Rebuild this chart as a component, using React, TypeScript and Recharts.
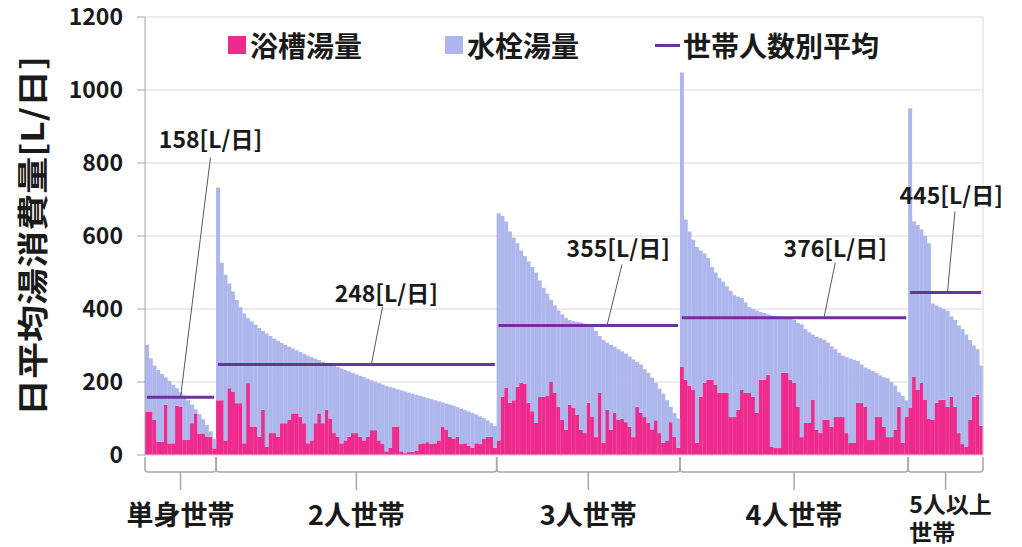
import React from "react";
import {
  Bar,
  BarChart,
  CartesianGrid,
  Legend,
  Line,
  ReferenceDot,
  ReferenceLine,
  XAxis,
  YAxis,
} from "recharts";

const FONT = '"Noto Sans CJK JP", "Noto Sans", sans-serif';

const groupNames = ["単身世帯", "2人世帯", "3人世帯", "4人世帯", "5人以上世帯"];
const groupAverages = [158, 248, 355, 376, 445];
const yTicks = [0, 200, 400, 600, 800, 1000, 1200];

// bar heights (total) and bath part, households sorted by total in each group
const singleTotal = [302, 265, 245, 233, 222, 213, 203, 192, 183, 172, 163, 150, 138, 125, 112, 98, 82, 65, 45];
const singleBath = [119, 119, 96, 36, 36, 137, 32, 32, 135, 133, 41, 41, 87, 114, 59, 59, 50, 50, 18];

const twoTotal = [
  733, 527, 494, 470, 448, 425, 405, 388, 375, 366, 357, 348, 340, 333, 326, 319, 313, 307, 302, 297,
  292, 287, 282, 277, 272, 268, 264, 260, 256, 252, 248, 245, 241, 237, 233, 229, 225, 221, 217, 213,
  209, 205, 201, 197, 193, 189, 186, 183, 180, 177, 174, 171, 168, 165, 162, 159, 156, 153, 150, 147,
  144, 141, 138, 135, 131, 127, 123, 119, 115, 111, 106, 101, 95, 88, 80,
];
const twoBath = [
  150, 150, 40, 183, 174, 142, 142, 32, 197, 78, 78, 50, 124, 23, 60, 60, 50, 87, 87, 96,
  114, 114, 105, 87, 32, 40, 87, 114, 87, 124, 100, 60, 50, 32, 40, 50, 60, 60, 50, 40,
  50, 68, 68, 40, 30, 10, 20, 78, 78, 10, 5, 8, 9, 12, 30, 32, 35, 30, 32, 40,
  78, 70, 50, 45, 50, 30, 32, 25, 20, 32, 30, 45, 50, 50, 20,
];

const threeTotal = [
  662, 655, 640, 612, 595, 580, 560, 545, 530, 515, 500, 478, 458, 442, 425, 410, 396, 385, 375, 370,
  367, 365, 363, 360, 358, 355, 340, 326, 315, 308, 302, 297, 290, 284, 278, 270, 262, 255, 248, 235,
  225, 212, 198, 182, 168, 150, 132, 115, 100,
];
const threeBath = [
  40, 160, 185, 143, 150, 187, 198, 195, 143, 120, 88, 159, 160, 163, 200, 170, 132, 96, 69, 137,
  130, 110, 69, 60, 143, 104, 49, 170, 33, 124, 69, 115, 96, 100, 90, 77, 49, 132, 115, 104,
  88, 70, 95, 60, 33, 40, 90, 50, 20,
];

const fourTotal = [
  1048, 645, 612, 590, 570, 560, 552, 540, 515, 500, 485, 475, 462, 450, 438, 434, 430, 418, 405, 400,
  396, 392, 389, 385, 382, 380, 379, 378, 377, 376, 370, 362, 358, 345, 336, 330, 324, 320, 316, 308,
  298, 290, 280, 272, 268, 264, 261, 258, 248, 240, 235, 230, 225, 218, 213, 210, 200, 190, 172, 162,
  150,
];
const fourBath = [
  242, 206, 190, 178, 33, 159, 198, 206, 206, 192, 170, 170, 170, 104, 104, 124, 178, 170, 170, 159,
  115, 206, 206, 220, 22, 19, 19, 225, 225, 206, 198, 132, 49, 88, 88, 151, 69, 60, 96, 96,
  77, 104, 104, 104, 60, 33, 33, 143, 143, 132, 41, 41, 104, 104, 77, 49, 49, 69, 132, 33,
  104,
];

const fiveTotal = [950, 640, 630, 618, 600, 580, 415, 410, 405, 400, 395, 380, 370, 355, 345, 330, 315, 300, 290, 245];
const fiveBath = [130, 214, 178, 198, 151, 100, 96, 143, 151, 151, 132, 159, 132, 60, 30, 22, 96, 159, 165, 80];

const groups = [
  { key: "a", total: singleTotal, bath: singleBath },
  { key: "b", total: twoTotal, bath: twoBath },
  { key: "c", total: threeTotal, bath: threeBath },
  { key: "d", total: fourTotal, bath: fourBath },
  { key: "e", total: fiveTotal, bath: fiveBath },
];

// callout text + leader line, placed on bars of each group
const callouts = [
  { text: "158[L/日]", at: ["a18", 863], from: ["a18", 815], to: ["a10", 158] },
  { text: "248[L/日]", at: ["b46", 442], from: ["b45", 406], to: ["b42", 248] },
  { text: "355[L/日]", at: ["c33", 566], from: ["c34", 522], to: ["c30", 355] },
  { text: "376[L/日]", at: ["d42", 566], from: ["d42", 527], to: ["d39", 376] },
  { text: "445[L/日]", at: ["e12", 711], from: ["e13", 667], to: ["e11", 445] },
];

const BATH = "#EE2A8C";
const TAP = "#AEB7EC";
const AVG = "#7030A0";
const GRID = "#D9D9D9";
const AXIS = "#A6A6A6";

type Row = { id: string; bath: number; tap: number; avgA: number | null; avgB: number | null };
const rows: Row[] = [];
const slot: Record<string, { g: number; i: number; n: number }> = {};
groups.forEach((grp, g) => {
  grp.total.forEach((t, i) => {
    const id = `${grp.key}${i + 1}`;
    rows.push({
      id,
      bath: grp.bath[i],
      tap: t - grp.bath[i],
      avgA: g % 2 === 0 ? groupAverages[g] : null,
      avgB: g % 2 === 1 ? groupAverages[g] : null,
    });
    slot[id] = { g, i, n: grp.total.length };
  });
});

const GroupTick = (props: any) => {
  const { x, y, payload, width } = props;
  const info = slot[payload.value];
  if (!info || info.i !== 0) return <g />;
  const step = payload.offset ? payload.offset * 2 : width / rows.length;
  const left = x - step / 2;
  const right = left + step * info.n;
  const mid = (left + right) / 2;
  const top = y + 2;
  const bot = y + 17;
  const r = 3;
  const name = groupNames[info.g];
  const textStyle = { fontFamily: FONT, fontWeight: 700, fontSize: 27, fill: "#1a1a1a" };
  return (
    <g>
      <path
        d={`M${left},${top} V${bot - r} Q${left},${bot} ${left + r},${bot} H${right - r} Q${right},${bot} ${right},${bot - r} V${top}`}
        fill="none"
        stroke={AXIS}
        strokeWidth={1.5}
      />
      <line x1={mid} x2={mid} y1={bot} y2={bot + 18} stroke={AXIS} strokeWidth={1.5} />
      {name.length > 4 ? (
        <text x={left + 1} y={y + 48} textAnchor="start" dominantBaseline="central" style={{ ...textStyle, fontSize: 23 }}>
          <tspan x={left + 1}>{name.slice(0, 4)}</tspan>
          <tspan x={left + 1} dy={28}>{name.slice(4)}</tspan>
        </text>
      ) : (
        <text x={mid} y={y + 58} textAnchor="middle" dominantBaseline="central" style={textStyle}>
          {name}
        </text>
      )}
    </g>
  );
};

const legendOrder = ["bath", "tap", "avgA"];

const LegendContent = (props: any) => {
  const items = (props.payload ?? [])
    .filter((p: any) => legendOrder.includes(p.dataKey))
    .sort((a: any, b: any) => legendOrder.indexOf(a.dataKey) - legendOrder.indexOf(b.dataKey));
  return (
    <div style={{ display: "flex", alignItems: "center", fontFamily: FONT, fontWeight: 700, fontSize: 28, color: "#1a1a1a", lineHeight: "30px" }}>
      {items.map((p: any, i: number) => (
        <div key={p.dataKey} style={{ display: "flex", alignItems: "center", marginRight: i === 0 ? 83 : 76 }}>
          {p.type === "line" ? (
            <span style={{ display: "inline-block", width: 25, height: 3, background: p.color, marginRight: 3 }} />
          ) : (
            <span style={{ display: "inline-block", width: 18, height: 18, background: p.color, marginRight: 4 }} />
          )}
          <span>{p.value}</span>
        </div>
      ))}
    </div>
  );
};

const YTitle = (props: any) => {
  const vb = props.viewBox;
  const cx = vb.x + 30;
  const cy = vb.y + vb.height / 2;
  return (
    <text
      x={cx}
      y={cy}
      transform={`rotate(-90 ${cx} ${cy})`}
      textAnchor="middle"
      dominantBaseline="central"
      textLength={360}
      lengthAdjust="spacingAndGlyphs"
      style={{ fontFamily: FONT, fontWeight: 700, fontSize: 31, fill: "#1a1a1a" }}
    >
      日平均湯消費量[L/日]
    </text>
  );
};

export default function App() {
  return (
    <div style={{ position: "absolute", left: 0, top: 0, width: 1022, height: 547, background: "#fff" }}>
      <BarChart
        width={1022}
        height={547}
        data={rows}
        margin={{ top: 17, right: 38, left: 0, bottom: 0 }}
        barCategoryGap={0}
      >
        <CartesianGrid vertical={false} stroke={GRID} />
        <XAxis
          dataKey="id"
          interval={0}
          height={92}
          tickSize={0}
          tickMargin={0}
          tickLine={false}
          axisLine={{ stroke: GRID }}
          tick={<GroupTick />}
        />
        <YAxis
          domain={[0, 1200]}
          ticks={yTicks}
          width={145}
          tickSize={8}
          tickMargin={14}
          axisLine={{ stroke: AXIS }}
          tickLine={{ stroke: AXIS }}
          tick={{ fontFamily: FONT, fontWeight: 700, fontSize: 23, fill: "#1a1a1a" }}
          label={<YTitle />}
        />
        <YAxis yAxisId="frame" orientation="right" width={1} tick={false} tickLine={false} axisLine={{ stroke: GRID }} />
        <Legend
          layout="horizontal"
          verticalAlign="middle"
          align="center"
          wrapperStyle={{ left: 228, top: 30, width: 760 }}
          content={<LegendContent />}
        />
        <Bar dataKey="bath" name="浴槽湯量" stackId="s" fill={BATH} isAnimationActive={false} />
        <Bar dataKey="tap" name="水栓湯量" stackId="s" fill={TAP} isAnimationActive={false} />
        <Line dataKey="avgA" name="世帯人数別平均" stroke={AVG} strokeWidth={3} dot={false} activeDot={false} connectNulls={false} isAnimationActive={false} />
        <Line dataKey="avgB" name="世帯人数別平均" legendType="none" stroke={AVG} strokeWidth={3} dot={false} activeDot={false} connectNulls={false} isAnimationActive={false} />
        {callouts.map((c) => (
          <ReferenceLine
            key={`l-${c.text}`}
            segment={[
              { x: c.from[0], y: c.from[1] },
              { x: c.to[0], y: c.to[1] },
            ]}
            stroke="#595959"
            strokeWidth={1}
            ifOverflow="visible"
          />
        ))}
        {callouts.map((c) => (
          <ReferenceDot
            key={`t-${c.text}`}
            x={c.at[0]}
            y={c.at[1]}
            r={0}
            fill="none"
            stroke="none"
            ifOverflow="visible"
            label={{ value: c.text, position: "center", fontFamily: FONT, fontWeight: 700, fontSize: 23, fill: "#1a1a1a" }}
          />
        ))}
      </BarChart>
    </div>
  );
}
